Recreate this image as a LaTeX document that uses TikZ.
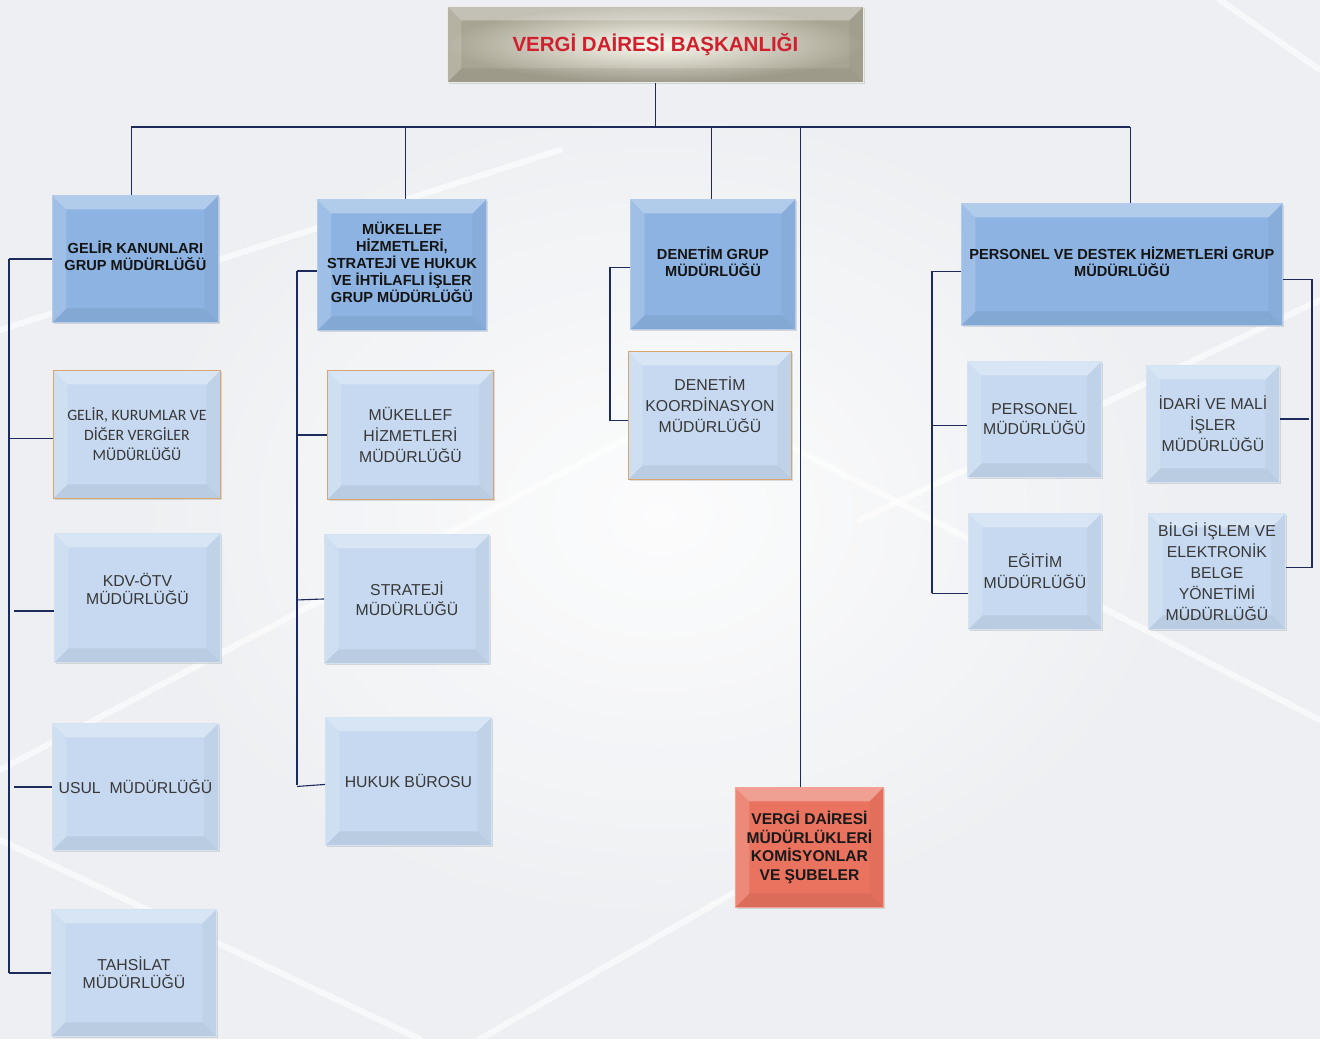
\documentclass[tikz,border=0pt]{standalone}
\usepackage{fontspec}
\setmainfont{Liberation Sans}
\newfontfamily\calib{Carlito}
\usetikzlibrary{shadows,calc}
\definecolor{linecol}{HTML}{1F2A5C}
\definecolor{grpblue}{HTML}{8DB3E2}
\definecolor{grpedge}{HTML}{B3CBE8}
\definecolor{subblue}{HTML}{C6D9F0}
\definecolor{subedge}{HTML}{D5E2F2}
\definecolor{tanedge}{HTML}{D9A46E}
\definecolor{redfill}{HTML}{E9735F}
\definecolor{rededge}{HTML}{F2A292}
\definecolor{titlered}{HTML}{D0202E}
\definecolor{bgcol}{HTML}{EDEFF2}
\definecolor{topin}{HTML}{FBFAF0}
\definecolor{topout}{HTML}{A8A493}
\tikzset{
  bevel/.style={path picture={
    \fill[white,opacity=0.32] (path picture bounding box.north west) -- (path picture bounding box.north east)
      -- ($(path picture bounding box.north east)+(-14,14)$) -- ($(path picture bounding box.north west)+(14,14)$) -- cycle;
    \fill[white,opacity=0.16] (path picture bounding box.north west) -- ($(path picture bounding box.north west)+(14,14)$)
      -- ($(path picture bounding box.south west)+(14,-14)$) -- (path picture bounding box.south west) -- cycle;
    \fill[black,opacity=0.06] (path picture bounding box.south west) -- (path picture bounding box.south east)
      -- ($(path picture bounding box.south east)+(-14,-14)$) -- ($(path picture bounding box.south west)+(14,-14)$) -- cycle;
    \fill[black,opacity=0.03] (path picture bounding box.north east) -- (path picture bounding box.south east)
      -- ($(path picture bounding box.south east)+(-14,-14)$) -- ($(path picture bounding box.north east)+(-14,14)$) -- cycle;
  }},
  boxbase/.style={rectangle, anchor=north west, line width=0.9pt, align=center, inner sep=2pt,
    drop shadow={opacity=0.25,shadow xshift=1.5pt,shadow yshift=-2pt}, bevel},
  grpbox/.style={boxbase, fill=grpblue, draw=grpedge, text=black!92,
    font=\bfseries\fontsize{14.6}{17}\selectfont},
  subbox/.style={boxbase, fill=subblue, draw=subedge, text=black!78,
    font=\fontsize{15.8}{21}\selectfont},
  conn/.style={draw=linecol, line width=1.1pt},
  bgline/.style={white, line width=6pt, opacity=0.6, line cap=round}
}
\begin{document}
\begin{tikzpicture}[x=1pt,y=-1pt]
\fill[bgcol] (0,0) rectangle (1320,1039);
\useasboundingbox (0,0) rectangle (1320,1039);
\shade[inner color=white, outer color=bgcol, opacity=0.85] (100,80) rectangle (1220,950);
% faint background streaks
\draw[bgline] (0,330) -- (560,150);
\draw[bgline] (0,770) -- (700,400);
\draw[bgline] (0,840) -- (420,1039);
\draw[bgline] (700,400) -- (1320,720);
\draw[bgline] (1220,0) -- (1320,70);
\draw[bgline] (860,520) -- (1320,300);
\draw[bgline] (480,1039) -- (860,820);

% top box
\node[boxbase, draw=white!85!gray, inner color=topin, outer color=topout,
  minimum width=416pt, minimum height=76pt, text=titlered, font=\bfseries\fontsize{20.5}{24}\selectfont]
  (top) at (447,6) {VERGİ DAİRESİ BAŞKANLIĞI};

% group boxes
\node[grpbox, minimum width=166pt, minimum height=127pt] (g1) at (52,195) {GELİR KANUNLARI\\GRUP MÜDÜRLÜĞÜ\\[-11pt]};
\node[grpbox, minimum width=169pt, minimum height=131pt] (g2) at (317,199) {MÜKELLEF\\HİZMETLERİ,\\STRATEJİ VE HUKUK\\VE İHTİLAFLI İŞLER\\GRUP MÜDÜRLÜĞÜ\\[-11pt]};
\node[grpbox, minimum width=165pt, minimum height=130pt] (g3) at (630,199) {DENETİM GRUP\\MÜDÜRLÜĞÜ\\[-11pt]};
\node[grpbox, minimum width=321pt, minimum height=122pt] (g4) at (961,203) {PERSONEL VE DESTEK HİZMETLERİ GRUP\\MÜDÜRLÜĞÜ\\[-11pt]};

% column 1
\node[subbox, draw=tanedge, minimum width=167pt, minimum height=128pt, font=\calib\fontsize{15.8}{20}\selectfont] (a1) at (53,370) {GELİR, KURUMLAR VE\\DİĞER VERGİLER\\MÜDÜRLÜĞÜ};
\node[subbox, minimum width=166pt, minimum height=129pt, font=\fontsize{15.8}{18.5}\selectfont] (a2) at (54,533) {KDV-ÖTV\\MÜDÜRLÜĞÜ\\};
\node[subbox, minimum width=166pt, minimum height=127pt] (a3) at (52,723) {USUL\ \ MÜDÜRLÜĞÜ};
\node[subbox, minimum width=165pt, minimum height=127pt, font=\fontsize{15.8}{18}\selectfont] (a4) at (51,909) {TAHSİLAT\\MÜDÜRLÜĞÜ};

% column 2
\node[subbox, draw=tanedge, minimum width=166pt, minimum height=129pt] (b1) at (327,370) {MÜKELLEF\\HİZMETLERİ\\MÜDÜRLÜĞÜ};
\node[subbox, minimum width=165pt, minimum height=129pt, font=\fontsize{15.8}{20}\selectfont] (b2) at (324,534) {STRATEJİ\\MÜDÜRLÜĞÜ};
\node[subbox, minimum width=166pt, minimum height=128pt] (b3) at (325,717) {HUKUK BÜROSU};

% column 3
\node[subbox, draw=tanedge, minimum width=163pt, minimum height=128pt] (c1) at (628,351) {DENETİM\\KOORDİNASYON\\MÜDÜRLÜĞÜ\\};

% column 4
\node[subbox, minimum width=134pt, minimum height=116pt, font=\fontsize{15.8}{20}\selectfont] (d1) at (967,361) {PERSONEL\\MÜDÜRLÜĞÜ};
\node[subbox, minimum width=133pt, minimum height=117pt] (d2) at (1146,365) {İDARİ VE MALİ\\İŞLER\\MÜDÜRLÜĞÜ};
\node[subbox, minimum width=133pt, minimum height=116pt] (d3) at (968,513) {EĞİTİM\\MÜDÜRLÜĞÜ};
\node[subbox, minimum width=137pt, minimum height=116pt] (d4) at (1148,513) {BİLGİ İŞLEM VE\\ELEKTRONİK\\BELGE\\YÖNETİMİ\\MÜDÜRLÜĞÜ};

% red box
\node[boxbase, fill=redfill, draw=rededge, text=black!90, minimum width=148pt, minimum height=120pt,
  font=\bfseries\fontsize{15.6}{18.5}\selectfont] (red) at (735,787) {VERGİ DAİRESİ\\MÜDÜRLÜKLERİ\\KOMİSYONLAR\\VE ŞUBELER};

% bus
\coordinate (busL) at (131,127);
\coordinate (busR) at (1130,127);
\draw[conn] (top.south) -- (top.south |- busL);
\draw[conn] (busL) -- (busR);
\draw[conn] ([xshift=-4pt]g1.north) -- ([xshift=-4pt]g1.north |- busL);
\draw[conn] ([xshift=3.5pt]g2.north) -- ([xshift=3.5pt]g2.north |- busL);
\draw[conn] ([xshift=-1.5pt]g3.north) -- ([xshift=-1.5pt]g3.north |- busL);
\draw[conn] ([xshift=8.5pt]g4.north) -- ([xshift=8.5pt]g4.north |- busL);
\draw[conn] ([xshift=-9pt]red.north) -- ([xshift=-9pt]red.north |- busL);

% column 1 bracket
\coordinate (s1) at (9,0);
\draw[conn] (s1 |- g1.west) -- (s1 |- a4.west);
\draw[conn] (s1 |- g1.west) -- (g1.west);
\draw[conn] ([yshift=-4pt]s1 |- a1.west) -- ([yshift=-4pt]a1.west);
\draw[conn] ([xshift=5pt,yshift=-13pt]s1 |- a2.west) -- ([yshift=-13pt]a2.west);
\draw[conn] ([xshift=5pt]s1 |- a3.west) -- (a3.west);
\draw[conn] (s1 |- a4.west) -- (a4.west);

% column 2 bracket
\coordinate (s2) at (297,0);
\draw[conn] ([yshift=-6pt]s2 |- g2.west) -- ([yshift=-4pt]s2 |- b3.west);
\draw[conn] ([yshift=-6pt]s2 |- g2.west) -- ([yshift=-6pt]g2.west);
\draw[conn] (s2 |- b1.west) -- (b1.west);
\draw[conn] ([yshift=-1pt]s2 |- b2.west) -- (b2.west);
\draw[conn] ([yshift=-5pt]s2 |- b3.west) -- ([yshift=-3pt]b3.west);

% column 3 bracket
\coordinate (s3) at (610,0);
\draw[conn] ([yshift=-3pt]g3.west) -| ([yshift=-5pt]s3 |- c1.west) -- ([yshift=-5pt]c1.west);

% column 4 left bracket
\coordinate (s4) at (932,0);
\draw[conn] ([yshift=-7pt]s4 |- g4.west) -- ([yshift=-22pt]s4 |- d3.west);
\draw[conn] ([yshift=-7pt]s4 |- g4.west) -- ([yshift=-7pt]g4.west);
\draw[conn] ([yshift=-6pt]s4 |- d1.west) -- ([yshift=-6pt]d1.west);
\draw[conn] ([yshift=-22pt]s4 |- d3.west) -- ([yshift=-22pt]d3.west);

% column 4 right bracket
\coordinate (s5) at (1312,0);
\draw[conn] ([yshift=-15pt]g4.east) -| ([yshift=4pt]s5 |- d4.east) -- ([yshift=4pt]d4.east);
\draw[conn] ([yshift=5pt]d2.east) -- ([yshift=5pt,xshift=-3pt]s5 |- d2.east);
\end{tikzpicture}
\end{document}
